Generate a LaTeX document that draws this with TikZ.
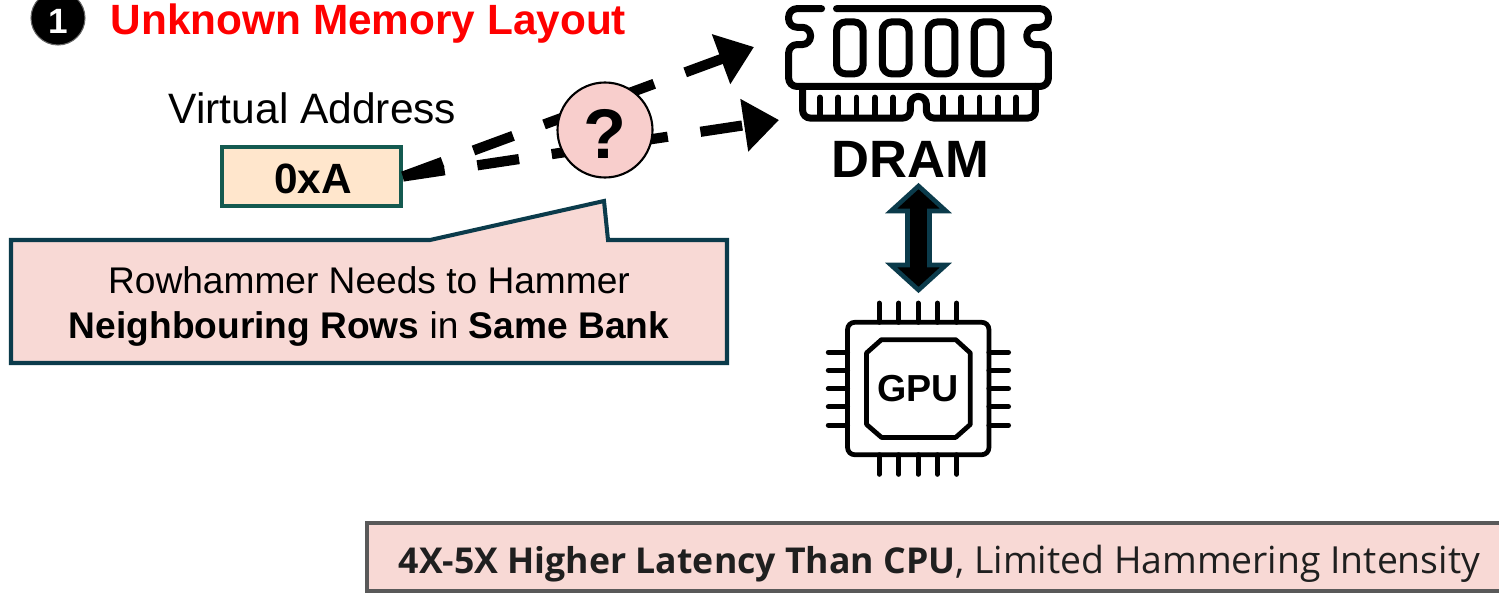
\documentclass[tikz,border=0pt]{standalone}
\usepackage{fontspec}
\setmainfont{Liberation Sans}
\newfontfamily\panelfont{Open Sans}
\usetikzlibrary{arrows.meta}
\definecolor{tealdark}{HTML}{0B3B4B}
\definecolor{tealbox}{HTML}{145A50}
\definecolor{peach}{HTML}{FFE6CC}
\definecolor{rosefill}{HTML}{F8D9D5}
\definecolor{roseball}{HTML}{F8CECC}
\tikzset{
	maintext/.style={font=\fontsize{12.1}{14}\selectfont},
	mainbold/.style={font=\fontsize{12.05}{14}\selectfont\bfseries},
	calltext/.style={font=\fontsize{10.56}{12.6}\selectfont, align=center},
	guess/.style={line width=2.9pt, dash pattern=on 12pt off 9.4pt, -{Triangle[length=10pt,width=14.5pt]}},
	iconline/.style={line width=2pt, line cap=round, line join=round},
	iconpin/.style={line width=1.4pt, line cap=round},
}

\begin{document}
\begin{tikzpicture}
	\useasboundingbox (0, 0) rectangle (14.99, 5.94);

	% heading
	\node[circle, fill=black, draw=black!60, line width=0.3pt, minimum size=0.54cm, inner sep=0pt] (badge) at (0.58, 5.76) {};
	\node[text=white, font=\fontsize{10}{12}\selectfont\bfseries, inner sep=0pt] (badgenum) at (0.58, 5.73) {1};
	\node[anchor=base west, inner sep=0pt, text=red, mainbold] (title) at (1.10, 5.60) {Unknown Memory Layout};

	% virtual address
	\node[anchor=base, inner sep=0pt, maintext] (vaddr) at (3.125, 4.71) {Virtual Address};
	\node[draw=tealbox, fill=peach, line width=1.1pt, minimum width=1.79cm, minimum height=0.59cm, inner sep=0pt] (addr) at (3.115, 4.175) {};
	\node[anchor=base, inner sep=0pt, mainbold] (addrtext) at (3.13, 4.01) {0xA};

	% guessed paths into the module
	\coordinate (upperend) at (7.54, 5.47);
	\coordinate (lowerend) at (7.79, 4.74);
	\draw[guess] (addr.east) -- (upperend);
	\draw[guess] (addr.east) -- (lowerend);
	\node[circle, draw=black, fill=roseball, line width=0.6pt, minimum size=0.95cm, inner sep=0pt] (mystery) at (6.05, 4.64) {};
	\node[font=\fontsize{20}{24}\selectfont\bfseries, inner sep=0pt] (mysterymark) at (6.05, 4.60) {?};

	% callout
	\draw[draw=tealdark, fill=rosefill, line width=1.15pt, line join=miter] (0.11, 3.54) -- (4.30, 3.54) -- (6.04, 3.93) -- (6.08, 3.54) -- (7.27, 3.54) -- (7.27, 2.31) -- (0.11, 2.31) -- cycle;
	\node[calltext] (calltext) at (3.69, 2.875) {Rowhammer Needs to Hammer\\\textbf{Neighbouring Rows} in \textbf{Same Bank}};

	% DRAM module
	\begin{scope}[shift={(7.70, 5.94)}, x=0.003333cm, y=-0.003333cm]
		\draw[iconline, rounded corners=2.4pt] (155, 26) -- (56, 26) -- (56, 82) -- (122, 82) -- (122, 134) -- (56, 134) -- (56, 260) -- (837, 260) -- (837, 134) -- (772, 134) -- (772, 82) -- (837, 82) -- (837, 26) -- (200, 26);
		\foreach \chipx in {200, 338, 476, 614} {
			\draw[iconline, rounded corners=2.6pt] (\chipx, 66) rectangle (\chipx + 80, 222);
		}
		\draw[iconline, rounded corners=2.2pt] (98, 260) -- (98, 355) -- (422, 355) -- (422, 290) -- (470, 290) -- (470, 355) -- (798, 355) -- (798, 260);
		\foreach \toothx in {150, 205, 260, 315, 370, 520, 575, 630, 685, 740} {
			\draw[iconline, line width=1.6pt] (\toothx, 350) -- (\toothx, 293);
		}
	\end{scope}
	\node[anchor=base, inner sep=0pt, font=\fontsize{14.95}{17}\selectfont\bfseries] (dram) at (9.10, 4.17) {DRAM};

	% two-way link
	\draw[draw=tealdark, fill=black, line width=1.3pt, line join=miter] (9.185, 4.08) -- (9.46, 3.83) -- (9.295, 3.83) -- (9.295, 3.29) -- (9.46, 3.29) -- (9.185, 3.04) -- (8.91, 3.29) -- (9.075, 3.29) -- (9.075, 3.83) -- (8.91, 3.83) -- cycle;

	% GPU package
	\begin{scope}[shift={(8.00, 4.24)}, x=0.003333cm, y=-0.003333cm]
		\draw[iconline, line width=1.35pt, rounded corners=2pt] (143, 458) rectangle (568, 856);
		\draw[iconline, line width=1.35pt] (245, 510) -- (468, 510) -- (512, 550) -- (512, 765) -- (468, 804) -- (245, 804) -- (200, 765) -- (200, 550) -- cycle;
		\foreach \pinx in {238, 297, 355, 413, 471} {
			\draw[iconpin] (\pinx, 400) -- (\pinx, 458);
			\draw[iconpin] (\pinx, 856) -- (\pinx, 915);
		}
		\foreach \piny in {548, 602, 657, 712, 767} {
			\draw[iconpin] (85, \piny) -- (143, \piny);
			\draw[iconpin] (568, \piny) -- (627, \piny);
		}
	\end{scope}
	\node[font=\fontsize{10.7}{12}\selectfont\bfseries, inner sep=0pt] (gpu) at (9.18, 2.05) {GPU};

	% latency panel
	\node[draw=black!65, fill=rosefill, line width=0.9pt, minimum width=11.54cm, minimum height=0.68cm, inner sep=0pt] (latency) at (9.44, 0.37) {};
	\node[anchor=base west, inner sep=0pt, text=black!88, font=\panelfont\fontsize{10.62}{12}\selectfont] (latencytext) at (3.98, 0.21) {{\fontsize{10.14}{12}\selectfont\bfseries 4X-5X Higher Latency Than CPU}, Limited Hammering Intensity};
\end{tikzpicture}
\end{document}
